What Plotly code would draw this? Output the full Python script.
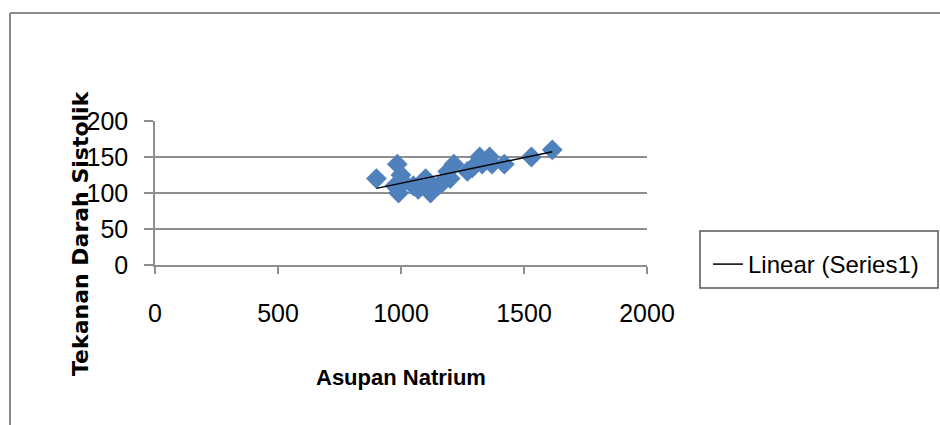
import numpy as np
import plotly.graph_objects as go

# Data
asupan_natrium = [900, 975, 985, 990, 1000, 1010, 1050, 1070, 1100, 1120, 1150, 1170,
                  1190, 1200, 1215, 1270, 1290, 1320, 1330, 1360, 1370, 1420, 1530, 1615]
tekanan_sistolik = [120, 110, 140, 100, 125, 115, 110, 105, 120, 100, 110, 115,
                    130, 120, 140, 130, 135, 150, 140, 150, 140, 140, 150, 160]
x_ticks = [0, 500, 1000, 1500, 2000]
y_ticks = [0, 50, 100, 150, 200]

# Linear trendline (least squares) from the data
slope, intercept = np.polyfit(asupan_natrium, tekanan_sistolik, 1)
trend_x = [min(asupan_natrium), max(asupan_natrium)]
trend_y = [slope * v + intercept for v in trend_x]

FONT = "Liberation Sans, Arial, sans-serif"
GRID = "#8e8e8e"

# plot-area geometry (pixels)
W, H = 940, 425
L, R, T, B = 155, 647, 121, 265
PW, PH = R - L, B - T


def px(xp):
    return (xp - L) / PW


def py(yp):
    return (B - yp) / PH


fig = go.Figure()
fig.add_trace(go.Scatter(
    x=asupan_natrium, y=tekanan_sistolik, mode="markers", name="Series1",
    marker=dict(symbol="diamond", size=16, color="#4f81bd", line=dict(width=0)),
    showlegend=False,
))
fig.add_trace(go.Scatter(
    x=trend_x, y=trend_y, mode="lines", name="Linear (Series1)",
    line=dict(color="#000000", width=1.5),
))

fig.update_layout(
    width=W, height=H, autosize=False,
    margin=dict(l=L, r=W - R, t=T, b=H - B, pad=0),
    paper_bgcolor="white", plot_bgcolor="white",
    font=dict(family=FONT, size=25, color="#000000"),
    legend=dict(
        x=px(708), y=py(242), xanchor="left", yanchor="top",
        borderwidth=0, bgcolor="rgba(0,0,0,0)",
        font=dict(family=FONT, size=24, color="#000000"),
        tracegroupgap=0,
    ),
    xaxis=dict(
        range=[0, 2000], tickvals=x_ticks, ticktext=[str(v) for v in x_ticks],
        showgrid=False, zeroline=False,
        showline=True, linecolor=GRID, linewidth=1.5,
        ticks="outside", ticklen=7, tickcolor=GRID, tickwidth=1.5,
        ticklabelstandoff=18,
        tickfont=dict(family=FONT, size=25),
        fixedrange=True,
    ),
    yaxis=dict(
        range=[0, 200], tickvals=y_ticks, ticktext=[str(v) for v in y_ticks],
        showgrid=True, gridcolor=GRID, gridwidth=1.5, zeroline=False,
        showline=True, linecolor=GRID, linewidth=1.5,
        ticks="outside", ticklen=9, tickcolor=GRID, tickwidth=1.5,
        ticklabelstandoff=11,
        tickfont=dict(family=FONT, size=25),
        fixedrange=True,
    ),
    annotations=[
        dict(text="<b>Asupan Natrium</b>", xref="paper", yref="paper",
             x=px(401), y=py(377), xanchor="center", yanchor="middle",
             showarrow=False, font=dict(family=FONT, size=22, color="#000000")),
        dict(text="<b>Tekanan Darah Sistolik</b>", xref="paper", yref="paper",
             x=px(80), y=py(233), xanchor="center", yanchor="middle", textangle=-90,
             showarrow=False, font=dict(family="DejaVu Sans, sans-serif", size=22, color="#000000")),
    ],
    shapes=[
        # outer chart border (left and top edges visible)
        dict(type="line", xref="paper", yref="paper",
             x0=px(10), x1=px(945), y0=py(13), y1=py(13),
             line=dict(color="#8a8a8a", width=2)),
        dict(type="line", xref="paper", yref="paper",
             x0=px(10), x1=px(10), y0=py(13), y1=py(430),
             line=dict(color="#8a8a8a", width=2)),
        # legend frame
        dict(type="rect", xref="paper", yref="paper",
             x0=px(700), x1=px(938), y0=py(231), y1=py(288),
             line=dict(color="#555555", width=1.5), fillcolor="rgba(0,0,0,0)"),
    ],
)

fig.write_html("out.html")
